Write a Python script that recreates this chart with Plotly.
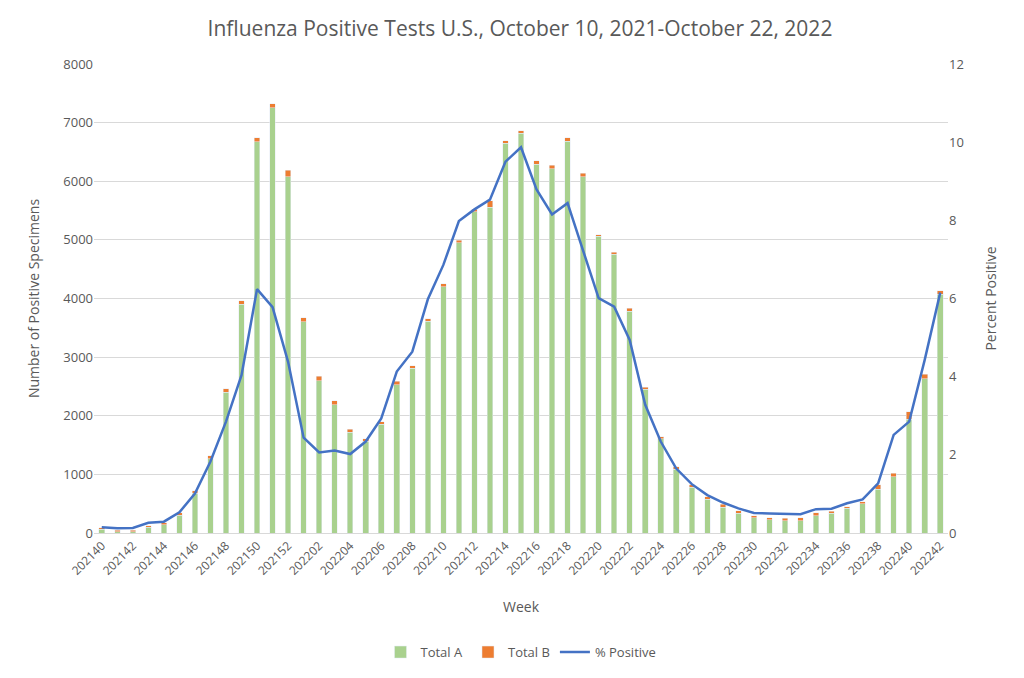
import plotly.graph_objects as go

weeks = [f"2021{w:02d}" for w in range(40, 53)] + [f"2022{w:02d}" for w in range(1, 43)]

total_positive = [90, 50, 50, 125, 175, 346, 725, 1320, 2460, 3960, 6740, 7320, 6190,
                  3670, 2670, 2260, 1770, 1610, 1900, 2590, 2850, 3656, 4253, 4997,
                  5521, 5668, 6692, 6863, 6350, 6271, 6743, 6140, 5088, 4793, 3832,
                  2485, 1643, 1131, 819, 620, 489, 381, 296, 262, 250, 256, 347, 370,
                  449, 535, 819, 1018, 2069, 2712, 4133]

total_b = [30, 25, 25, 30, 35, 40, 45, 50, 55, 55, 65, 70, 110, 70, 70, 70, 55, 45, 45,
           60, 40, 40, 50, 50, 45, 110, 45, 40, 60, 55, 60, 65, 30, 40, 50, 35, 35, 40,
           40, 40, 50, 45, 40, 40, 45, 50, 50, 35, 30, 40, 70, 60, 130, 80, 60]

total_a = [t - b for t, b in zip(total_positive, total_b)]

pct_positive = [0.15, 0.12, 0.13, 0.26, 0.29, 0.53, 1.01, 1.83, 2.85, 4.04, 6.24, 5.78,
                4.38, 2.44, 2.06, 2.11, 2.02, 2.34, 2.93, 4.13, 4.64, 5.98, 6.86, 7.98,
                8.28, 8.53, 9.50, 9.87, 8.79, 8.15, 8.44, 7.24, 6.01, 5.79, 4.94, 3.28,
                2.34, 1.65, 1.25, 0.97, 0.78, 0.63, 0.51, 0.50, 0.49, 0.48, 0.61, 0.62,
                0.76, 0.86, 1.27, 2.51, 2.85, 4.43, 6.15]

gray = "#595959"
font = "Open Sans"

fig = go.Figure()
fig.add_trace(go.Bar(x=weeks, y=total_a, name="Total A", marker_color="#A9D18E"))
fig.add_trace(go.Bar(x=weeks, y=total_b, name="Total B", marker_color="#ED7D31"))
fig.add_trace(go.Scatter(x=weeks, y=pct_positive, name="% Positive", mode="lines",
                         line=dict(color="#4472C4", width=2.5), yaxis="y2"))

# page body has an 8px margin, so everything is pulled up/left by 8px
fig.update_layout(
    width=1024, height=678,
    barmode="stack", bargap=0.64,
    paper_bgcolor="white", plot_bgcolor="white",
    font=dict(family=font, color=gray, size=12),
    margin=dict(l=86, r=84, t=56, b=153),
    title=dict(text="Influenza Positive Tests U.S., October 10, 2021-October 22, 2022",
               x=0.5, xanchor="center", y=0.969, yanchor="middle", automargin=False,
               font=dict(size=21, color=gray, family=font)),
    xaxis=dict(type="category", tickvals=weeks[::2], ticktext=weeks[::2], automargin=False,
               tickangle=-45, showgrid=False, showline=True, linecolor="#d9d9d9",
               ticks="", title=dict(text="Week", font=dict(size=14, color=gray), standoff=24),
               tickfont=dict(size=12, color=gray)),
    yaxis=dict(range=[0, 8000], dtick=1000, showgrid=True, gridcolor="#d9d9d9",
               zeroline=False, ticks="", tickfont=dict(size=13, color=gray), automargin=False,
               title=dict(text="Number of Positive Specimens", font=dict(size=14, color=gray),
                          standoff=20)),
    yaxis2=dict(range=[0, 12], dtick=2, overlaying="y", side="right", showgrid=False,
                zeroline=False, ticks="", tickfont=dict(size=13, color=gray), automargin=False,
                title=dict(text="Percent Positive", font=dict(size=14, color=gray),
                           standoff=23)),
    legend=dict(orientation="h", x=0.5, xanchor="center", y=-0.254, yanchor="middle",
                font=dict(size=13, color=gray), traceorder="normal", itemwidth=30),
)

fig.write_html("out.html")
